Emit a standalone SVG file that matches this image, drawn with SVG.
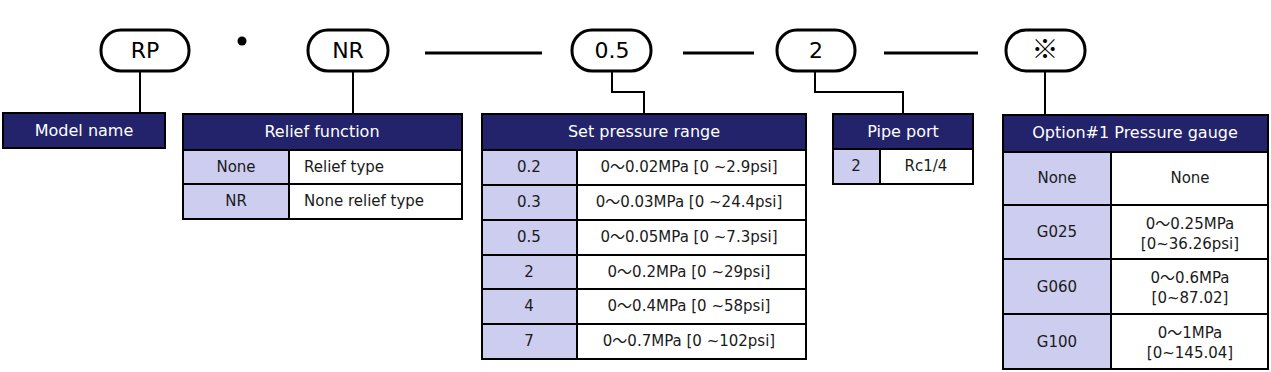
<svg xmlns="http://www.w3.org/2000/svg" width="1271" height="372" viewBox="0 0 1271 372">
<style>
text{font-family:"DejaVu Sans","Noto Sans CJK JP",sans-serif;fill:#1a1a1a;font-size:15px}
.pill{fill:#fff;stroke:#000;stroke-width:3}
.pt{font-size:22px;text-anchor:middle;fill:#000}
.hd{fill:#23236b;stroke:#000;stroke-width:2}
.ht{fill:#fff;text-anchor:middle;font-size:16px}
.k{fill:#cdcdef;stroke:#000;stroke-width:2}
.v{fill:#fff;stroke:#000;stroke-width:2}
.c{text-anchor:middle}
.ln{stroke:#000;stroke-width:2;fill:none}
.dash{stroke:#000;stroke-width:3}
</style>
<g id="connectors">
<line class="dash" x1="425" y1="53" x2="542" y2="53"/>
<line class="dash" x1="683" y1="53" x2="754" y2="53"/>
<line class="dash" x1="884" y1="53" x2="978" y2="53"/>
<circle cx="242" cy="41" r="4.5" fill="#000"/>
<polyline class="ln" points="140,71 140,113"/>
<polyline class="ln" points="353,71 353,114"/>
<polyline class="ln" points="612,71 612,92 644,92 644,114"/>
<polyline class="ln" points="815,71 815,92 903,92 903,114"/>
<polyline class="ln" points="1045,71 1045,115"/>
</g>
<g id="pill-rp"><rect class="pill" x="101" y="30" width="88" height="41" rx="20"/><text class="pt" x="145" y="58">RP</text></g>
<g id="pill-nr"><rect class="pill" x="308" y="30" width="80" height="41" rx="20"/><text class="pt" x="348" y="58">NR</text></g>
<g id="pill-05"><rect class="pill" x="572" y="30" width="79" height="41" rx="20"/><text class="pt" x="612" y="58">0.5</text></g>
<g id="pill-2"><rect class="pill" x="777" y="30" width="78" height="41" rx="20"/><text class="pt" x="816" y="58">2</text></g>
<g id="pill-opt"><rect class="pill" x="1006" y="30" width="79" height="41" rx="20"/><text class="pt" x="1045" y="59" style="font-family:'Noto Sans CJK JP',sans-serif;font-size:27px">※</text></g>

<g id="model-name">
<rect class="hd" x="3" y="113" width="162" height="35"/>
<text class="ht" x="84" y="136">Model name</text>
</g>

<g id="relief-function">
<rect class="hd" x="183" y="114" width="279" height="36"/>
<text class="ht" x="322" y="137">Relief function</text>
<rect class="k" x="183" y="150" width="106" height="34"/><rect class="v" x="289" y="150" width="173" height="34"/>
<text class="c" x="236" y="172">None</text><text x="304" y="172">Relief type</text>
<rect class="k" x="183" y="184" width="106" height="35"/><rect class="v" x="289" y="184" width="173" height="35"/>
<text class="c" x="236" y="206">NR</text><text x="304" y="206">None relief type</text>
</g>

<g id="set-pressure">
<rect class="hd" x="482" y="114" width="324" height="36"/>
<text class="ht" x="644" y="137">Set pressure range</text>
<rect class="k" x="482" y="150" width="95" height="35"/><rect class="v" x="577" y="150" width="229" height="35"/>
<text class="c" x="529" y="172">0.2</text><text class="c" x="689" y="172">0～0.02MPa [0 ~2.9psi]</text>
<rect class="k" x="482" y="185" width="95" height="35"/><rect class="v" x="577" y="185" width="229" height="35"/>
<text class="c" x="529" y="207">0.3</text><text class="c" x="689" y="207">0～0.03MPa [0 ~24.4psi]</text>
<rect class="k" x="482" y="220" width="95" height="35"/><rect class="v" x="577" y="220" width="229" height="35"/>
<text class="c" x="529" y="242">0.5</text><text class="c" x="689" y="242">0～0.05MPa [0 ~7.3psi]</text>
<rect class="k" x="482" y="255" width="95" height="34"/><rect class="v" x="577" y="255" width="229" height="34"/>
<text class="c" x="529" y="277">2</text><text class="c" x="689" y="277">0～0.2MPa [0 ~29psi]</text>
<rect class="k" x="482" y="289" width="95" height="35"/><rect class="v" x="577" y="289" width="229" height="35"/>
<text class="c" x="529" y="311">4</text><text class="c" x="689" y="311">0～0.4MPa [0 ~58psi]</text>
<rect class="k" x="482" y="324" width="95" height="35"/><rect class="v" x="577" y="324" width="229" height="35"/>
<text class="c" x="529" y="346">7</text><text class="c" x="689" y="346">0～0.7MPa [0 ~102psi]</text>
</g>

<g id="pipe-port">
<rect class="hd" x="833" y="114" width="140" height="35"/>
<text class="ht" x="903" y="137">Pipe port</text>
<rect class="k" x="833" y="149" width="47" height="35"/><rect class="v" x="880" y="149" width="93" height="35"/>
<text class="c" x="856" y="171">2</text><text class="c" x="926" y="171">Rc1/4</text>
</g>

<g id="option-gauge">
<rect class="hd" x="1003" y="115" width="265" height="37"/>
<text class="ht" x="1135" y="138">Option#1 Pressure gauge</text>
<rect class="k" x="1003" y="152" width="108" height="53"/><rect class="v" x="1111" y="152" width="157" height="53"/>
<text class="c" x="1057" y="183">None</text><text class="c" x="1190" y="183">None</text>
<rect class="k" x="1003" y="205" width="108" height="54"/><rect class="v" x="1111" y="205" width="157" height="54"/>
<text class="c" x="1057" y="237">G025</text>
<text class="c" x="1190" y="229">0～0.25MPa</text><text class="c" x="1190" y="249">[0~36.26psi]</text>
<rect class="k" x="1003" y="259" width="108" height="55"/><rect class="v" x="1111" y="259" width="157" height="55"/>
<text class="c" x="1057" y="292">G060</text>
<text class="c" x="1190" y="283">0～0.6MPa</text><text class="c" x="1190" y="303">[0~87.02]</text>
<rect class="k" x="1003" y="314" width="108" height="55"/><rect class="v" x="1111" y="314" width="157" height="55"/>
<text class="c" x="1057" y="347">G100</text>
<text class="c" x="1190" y="338">0～1MPa</text><text class="c" x="1190" y="358">[0~145.04]</text>
</g>
</svg>
